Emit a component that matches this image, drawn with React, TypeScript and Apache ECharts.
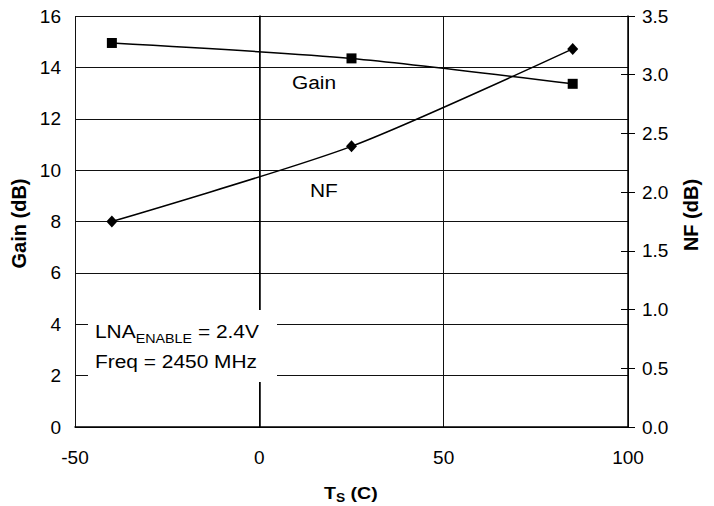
import React, { useEffect, useRef } from "react";
import * as echarts from "echarts";

// Temperature sweep points (°C)
const temperatures = [-40, 25, 85];
// Gain in dB at each temperature
const gainDb = [14.95, 14.35, 13.36];
// Noise figure in dB at each temperature
const noiseFigureDb = [1.75, 2.39, 3.22];

const FONT = "'Liberation Sans', Arial, sans-serif";
// slightly widened lettering for the in-plot captions
const WIDE = 1.1;

export default function App() {
  const ref = useRef<HTMLDivElement>(null);

  useEffect(() => {
    document.body.style.margin = "0";
    if (!ref.current) return;
    const chart = echarts.init(ref.current, undefined, { renderer: "svg" });

    const gainPts = temperatures.map((t, i) => [t, gainDb[i]]);
    const nfPts = temperatures.map((t, i) => [t, noiseFigureDb[i]]);

    chart.setOption({
      animation: false,
      backgroundColor: "#fff",
      grid: { left: 75, right: 86, top: 16, bottom: 79, containLabel: false },
      xAxis: {
        type: "value",
        min: -50,
        max: 100,
        interval: 50,
        axisLine: { show: true, lineStyle: { color: "#000", width: 1.5 } },
        axisTick: { show: false },
        splitLine: { show: true, lineStyle: { color: "#111", width: 1 } },
        axisLabel: { color: "#000", fontSize: 19, fontFamily: FONT, margin: 21 },
      },
      yAxis: [
        {
          type: "value",
          min: 0,
          max: 16,
          interval: 2,
          position: "left",
          axisLine: { show: true, lineStyle: { color: "#000", width: 1.5 } },
          axisTick: { show: true, inside: false, length: 6, lineStyle: { color: "#000" } },
          splitLine: { show: true, lineStyle: { color: "#111", width: 1 } },
          axisLabel: { color: "#000", fontSize: 19, fontFamily: FONT, margin: 14 },
          name: "Gain (dB)",
          nameLocation: "middle",
          nameGap: 43,
          nameRotate: 90,
          nameTextStyle: {
            color: "#000",
            fontSize: 20,
            fontWeight: "bold",
            fontFamily: FONT,
            padding: [0, 4, 0, 0],
          },
        },
        {
          type: "value",
          min: 0,
          max: 3.5,
          interval: 0.5,
          position: "right",
          axisLine: { show: true, lineStyle: { color: "#000", width: 1.5 } },
          axisTick: { show: true, inside: false, length: 7, lineStyle: { color: "#000" } },
          splitLine: { show: false },
          axisLabel: {
            color: "#000",
            fontSize: 19,
            fontFamily: FONT,
            margin: 14,
            formatter: (v: number) => v.toFixed(1),
          },
          name: "NF (dB)",
          nameLocation: "middle",
          nameGap: 53,
          nameRotate: 90,
          nameTextStyle: {
            color: "#000",
            fontSize: 20,
            fontWeight: "bold",
            fontFamily: FONT,
            padding: [0, 0, 0, 13],
          },
        },
        {
          // inner half of the cross ticks on the right axis
          type: "value",
          min: 0,
          max: 3.5,
          interval: 0.5,
          position: "right",
          axisLine: { show: false },
          axisTick: { show: true, inside: true, length: 7, lineStyle: { color: "#000" } },
          splitLine: { show: false },
          axisLabel: { show: false },
        },
      ],
      series: [
        {
          name: "Gain",
          type: "line",
          yAxisIndex: 0,
          data: gainPts,
          smooth: 0.25,
          symbol: "rect",
          symbolSize: 10,
          lineStyle: { color: "#000", width: 1.5 },
          itemStyle: { color: "#000" },
          z: 5,
        },
        {
          name: "NF",
          type: "line",
          yAxisIndex: 1,
          data: nfPts,
          smooth: 0.25,
          symbol: "diamond",
          symbolSize: [11, 12],
          lineStyle: { color: "#000", width: 1.5 },
          itemStyle: { color: "#000" },
          z: 5,
        },
      ],
      graphic: [
        {
          type: "text",
          x: 292,
          y: 73,
          z: 100,
          scaleX: WIDE,
          style: { text: "Gain", font: `19px ${FONT}`, fill: "#000" },
        },
        {
          type: "text",
          x: 310,
          y: 181,
          z: 100,
          scaleX: WIDE,
          style: { text: "NF", font: `19px ${FONT}`, fill: "#000" },
        },
        {
          type: "rect",
          z: 100,
          shape: { x: 88, y: 310, width: 189, height: 72 },
          style: { fill: "#fff", stroke: null },
        },
        {
          type: "text",
          x: 95,
          y: 317,
          z: 101,
          scaleX: WIDE,
          style: {
            text: "{m|LNA}{s|ENABLE}{m| = 2.4V}",
            rich: {
              m: { font: `19px ${FONT}`, fill: "#000", verticalAlign: "bottom", lineHeight: 24 },
              s: { font: `13px ${FONT}`, fill: "#000", verticalAlign: "bottom", lineHeight: 18, padding: [0, 0, -4, 0] },
            },
          },
        },
        {
          type: "text",
          x: 95,
          y: 352,
          z: 101,
          scaleX: WIDE,
          style: { text: "Freq = 2450 MHz", font: `19px ${FONT}`, fill: "#000" },
        },
        {
          type: "text",
          x: 324,
          y: 480,
          z: 101,
          scaleX: 1.15,
          style: {
            text: "{t|T}{s|S}{t| (C)}",
            rich: {
              t: { font: `bold 17px ${FONT}`, fill: "#000", verticalAlign: "bottom", lineHeight: 21 },
              s: { font: `bold 12px ${FONT}`, fill: "#000", verticalAlign: "bottom", lineHeight: 16, padding: [0, 0, -3, 0] },
            },
          },
        },
      ],
    });

    return () => chart.dispose();
  }, []);

  return <div ref={ref} style={{ width: 714, height: 506 }} />;
}
